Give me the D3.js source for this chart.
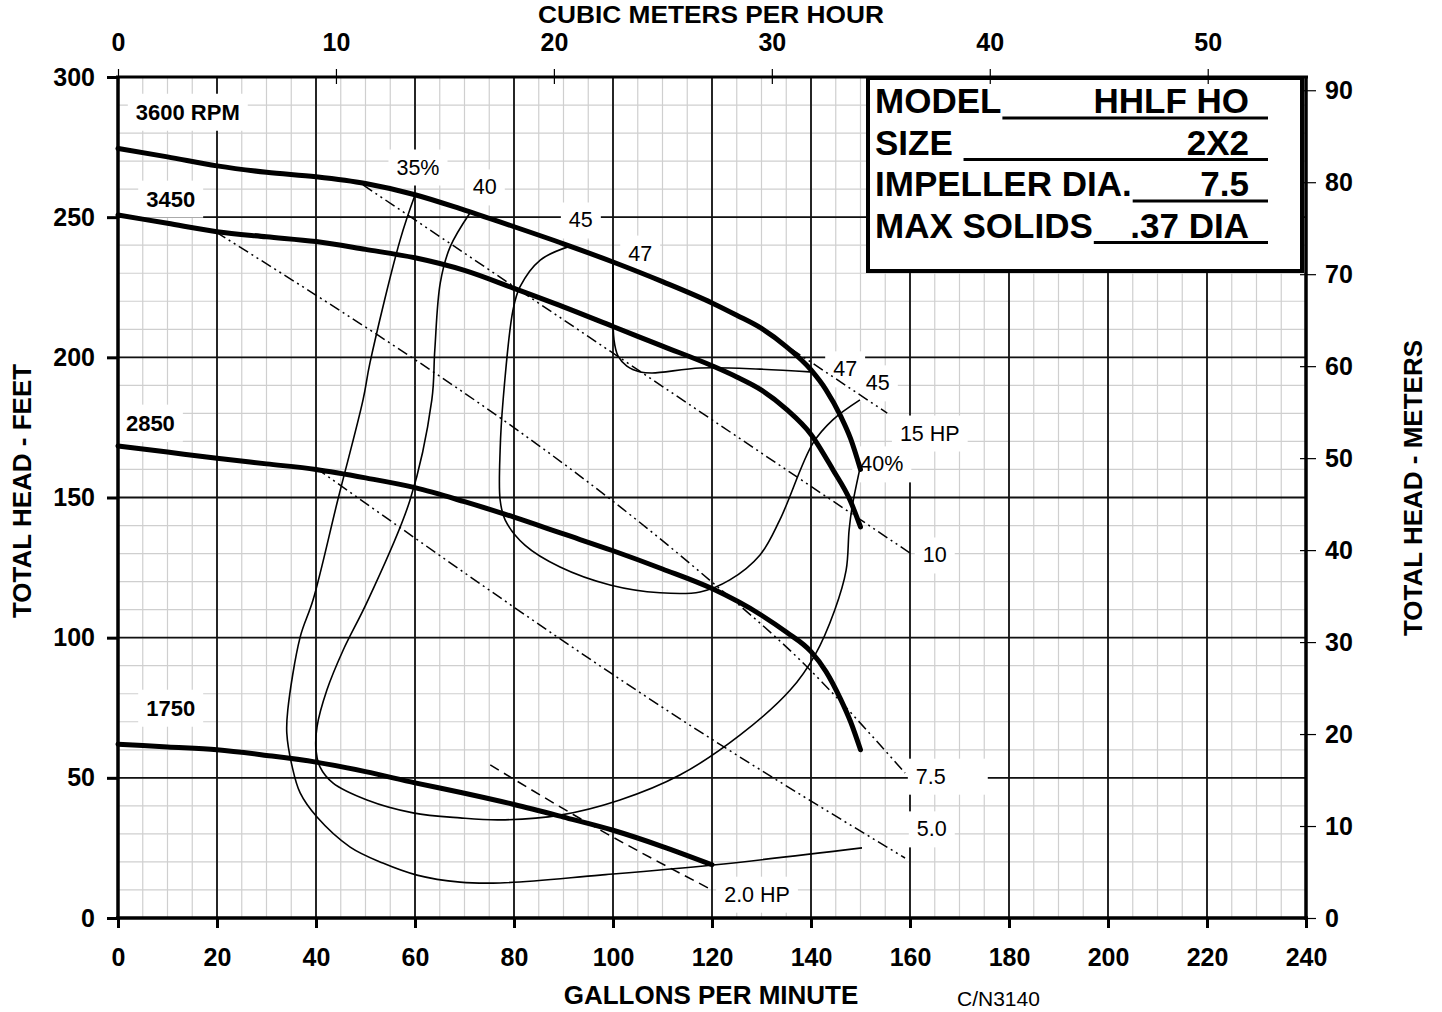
<!DOCTYPE html>
<html>
<head>
<meta charset="utf-8">
<script src="https://cdn.jsdelivr.net/npm/d3@7"></script>
<style>
body { margin: 0; background: #fff; }
svg { display: block; font-family: "Liberation Sans", Arial, sans-serif; }
</style>
</head>
<body>
<svg id="chart" width="1442" height="1012"></svg>
<script>
// axis ticks
let gpmTicks = d3.range(0, 241, 20);
let feetTicks = d3.range(0, 301, 50);
let m3hTicks = [0, 10, 20, 30, 40, 50];
let meterTicks = d3.range(0, 91, 10);

// head curves [gpm, feet]
let rpm3600 = [[0,274.5],[10,271.5],[20,268.3],[30,266],[40,264.4],[50,262],[60,258],[70,252.5],[80,246.6],[90,240.5],[100,234],[110,227],[120,219.4],[125,215],[130,210.3],[135,203.8],[140,195.5],[143,188.5],[146,179],[148,171],[150,160]];
let rpm3450 = [[0,250.8],[10,247.8],[20,244.8],[30,243],[40,241.3],[50,238.5],[60,235.5],[70,231],[80,224.6],[90,218],[100,211],[110,204],[120,197],[125,193],[130,188.3],[135,181.5],[140,172.5],[144.4,160],[147.9,149],[150,139.5]];
let rpm2850 = [[0,168.4],[10,166.2],[20,164],[30,162],[40,160],[50,157],[60,153.5],[70,148.5],[80,143],[90,137],[100,131],[110,124.5],[120,117.5],[130,108],[135,102],[140,95],[143,88],[146,78],[148,70],[150,60]];
let rpm1750 = [[0,62],[10,61],[20,60],[30,58],[40,55.6],[50,52.2],[60,48.2],[70,44.5],[80,40.5],[90,36],[100,31.3],[110,25.5],[120,19]];

// efficiency curves [gpm, feet]
let eff35 = [[60,257.9],[57,241.9],[50.9,198],[49.5,184.8],[44.4,149.1],[39.4,113.4],[36.8,100.2],[34.3,74.2],[34.1,66],[35.2,53.9],[36.8,44.6],[40.2,36],[46.9,25.3],[53.5,19.6],[60.4,15.3],[69.1,12.8],[77.2,12.5],[97.4,15.3],[120.2,18.9],[150.3,25]];
let eff40 = [[71.1,251.5],[67.1,239.4],[65.1,226.5],[64,202.6],[63.4,184.8],[59,149.1],[50.5,113.4],[45.5,95.6],[42.2,81.3],[40.2,68.1],[40,59.9],[40.8,53.9],[43.4,48.2],[50.3,42.1],[59.6,37.5],[69.1,35.7],[77.2,35],[89.3,36.7],[101.4,42.1],[113.5,51],[125.7,65.3],[135.8,81.3],[140.8,93.8],[144.8,109.9],[147.1,124.1],[147.7,138.4],[148.3,146.6],[149.9,160.5]];
let eff45 = [[90.9,239.4],[85.3,234.7],[81.2,225.1],[79.8,216.9],[77.8,184.8],[77.2,167],[77.2,149.1],[78.2,142],[82.2,133],[89.3,125.2],[99.4,118.8],[109.5,116],[117.6,116.3],[123.6,120.6],[129.7,129.5],[133.7,142],[140.4,169.4],[144.4,177.7],[149.9,184.8]];
let eff47 = [[100,234],[100,220.5],[100.2,206.2],[101,200.5],[102.8,196.9],[105.5,194.8],[107.9,194.4],[117.6,196.2],[129.7,195.8],[139.8,194.8]];

// horsepower lines [gpm, feet]
let hp15 = [[136,203],[155.4,180.1]];
let hp10 = [[49.5,261.5],[160,130.2]];
let hp75 = [[19.8,244.7],[117.6,123.4],[137.8,92],[159,51.7]];
let hp50 = [[40,160.5],[120.2,63.5],[159,21.4]];
let hp20 = [[75.2,54.6],[97.4,31.4],[120,10]];

// labels
let rpmLabels = [
  {t: "3600 RPM", q: 3.6, h: 287.5},
  {t: "3450", q: 5.7, h: 256.5},
  {t: "2850", q: 1.6, h: 176.6},
  {t: "1750", q: 5.7, h: 74.9}
];
let curveLabels = [
  {t: "35%", q: 60.6, h: 267.9},
  {t: "40", q: 74.1, h: 260.8},
  {t: "45", q: 93.5, h: 249},
  {t: "47", q: 105.5, h: 237.2},
  {t: "47", q: 146.9, h: 195.9},
  {t: "45", q: 153.5, h: 190.9},
  {t: "40%", q: 154.3, h: 162},
  {t: "15 HP", q: 164, h: 173},
  {t: "10", q: 165, h: 129.5},
  {t: "7.5", q: 164.2, h: 50.6},
  {t: "5.0", q: 164.4, h: 31.8},
  {t: "2.0 HP", q: 129.1, h: 8.5}
];
let infoRows = [["MODEL", "HHLF HO"], ["SIZE ", "2X2"], ["IMPELLER DIA.", "7.5"], ["MAX SOLIDS", ".37 DIA"]];

let svg = d3.select("#chart");

let x = d3.scaleLinear().domain([0, 240]).range([118, 1306]);
let y = d3.scaleLinear().domain([0, 300]).range([918, 77]);
let xm = d3.scaleLinear().domain([0, 240 / 4.4029]).range([118, 1306]);
let ym = d3.scaleLinear().domain([0, 300 * 0.3048]).range([918, 77]);

//grid
let grid = svg.append("g");
grid.selectAll(".vmin").data(d3.range(0, 241, 5)).enter().append("line")
  .attr("x1", d => x(d)).attr("x2", d => x(d))
  .attr("y1", y(0)).attr("y2", y(300))
  .attr("stroke", "#cfcfcf").attr("stroke-width", 1.2);
grid.selectAll(".hmin").data(d3.range(0, 301, 10)).enter().append("line")
  .attr("x1", x(0)).attr("x2", x(240))
  .attr("y1", d => y(d)).attr("y2", d => y(d))
  .attr("stroke", "#cfcfcf").attr("stroke-width", 1.2);
grid.selectAll(".vmaj").data(gpmTicks).enter().append("line")
  .attr("x1", d => x(d)).attr("x2", d => x(d))
  .attr("y1", y(0)).attr("y2", y(300))
  .attr("stroke", "#111").attr("stroke-width", 1.8);
grid.selectAll(".hmaj").data(feetTicks).enter().append("line")
  .attr("x1", x(0)).attr("x2", x(240))
  .attr("y1", d => y(d)).attr("y2", d => y(d))
  .attr("stroke", "#111").attr("stroke-width", 1.8);

let boxes = svg.append("g");
let curves = svg.append("g").attr("fill", "none").attr("stroke", "#000");

let smooth = d3.line().x(d => x(d[0])).y(d => y(d[1])).curve(d3.curveMonotoneX);
let loop = d3.line().x(d => x(d[0])).y(d => y(d[1])).curve(d3.curveCatmullRom.alpha(0.5));

// efficiency curves
[eff35, eff40, eff45, eff47].forEach(function(c) {
  curves.append("path").attr("d", loop(c)).attr("stroke-width", 1.6);
});

// hp lines
[hp15, hp10, hp75, hp50].forEach(function(c) {
  curves.append("path").attr("d", smooth(c))
    .attr("stroke-width", 1.5)
    .attr("stroke-dasharray", "11,4,2,4,2,4");
});
curves.append("path").attr("d", smooth(hp20))
  .attr("stroke-width", 1.5)
  .attr("stroke-dasharray", "10,6");

// head curves
[rpm3600, rpm3450, rpm2850, rpm1750].forEach(function(c) {
  curves.append("path").attr("d", smooth(c))
    .attr("stroke-width", 5)
    .attr("stroke-linecap", "round");
});

// labels with white backgrounds
let labels = svg.append("g");
labels.selectAll(".rpm").data(rpmLabels).enter().append("text")
  .attr("x", d => x(d.q)).attr("y", d => y(d.h))
  .attr("dy", "0.35em")
  .attr("font-size", "22px").attr("font-weight", "bold")
  .text(d => d.t);
labels.selectAll(".cl").data(curveLabels).enter().append("text")
  .attr("x", d => x(d.q)).attr("y", d => y(d.h))
  .attr("dy", "0.35em")
  .attr("text-anchor", "middle")
  .attr("font-size", "21.5px")
  .text(d => d.t);

labels.selectAll("text").each(function(d) {
  let b = this.getBBox();
  let extra = d.t === "7.5" ? 34 : 0;
  boxes.append("rect")
    .attr("x", b.x - 8).attr("y", b.y - 6)
    .attr("width", b.width + 16 + extra).attr("height", b.height + 12)
    .attr("fill", "#fff");
});

// info box
let info = svg.append("g");
info.append("rect")
  .attr("x", 868).attr("y", 78).attr("width", 434).attr("height", 193)
  .attr("fill", "#fff").attr("stroke", "#000").attr("stroke-width", 4);
infoRows.forEach(function(r, i) {
  let base = 113 + i * 41.5;
  let lbl = info.append("text")
    .attr("x", 875).attr("y", base)
    .attr("font-size", "35px").attr("font-weight", "bold")
    .style("white-space", "pre")
    .text(r[0]);
  let end = 875 + lbl.node().getComputedTextLength();
  info.append("line")
    .attr("x1", end + 1).attr("x2", 1268)
    .attr("y1", base + 5).attr("y2", base + 5)
    .attr("stroke", "#000").attr("stroke-width", 3);
  info.append("text")
    .attr("x", 1249).attr("y", base)
    .attr("text-anchor", "end")
    .attr("font-size", "35px").attr("font-weight", "bold")
    .text(r[1]);
});

// axes
function styleAxis(g, size) {
  g.select(".domain").remove();
  g.selectAll(".tick line").attr("stroke", "#000");
  g.selectAll(".tick text")
    .attr("fill", "#000")
    .attr("font-family", "\"Liberation Sans\", Arial, sans-serif")
    .attr("font-size", size).attr("font-weight", "bold");
}

let axisL = svg.append("g").attr("transform", "translate(118,0)")
  .call(d3.axisLeft(y).tickValues(feetTicks).tickSize(11).tickPadding(12));
styleAxis(axisL, "25px");
axisL.selectAll(".tick line").attr("stroke-width", 3);

let axisB = svg.append("g").attr("transform", "translate(0,918)")
  .call(d3.axisBottom(x).tickValues(gpmTicks).tickSize(10).tickPadding(20));
styleAxis(axisB, "25px");
axisB.selectAll(".tick line").attr("stroke-width", 3);

let axisT = svg.append("g").attr("transform", "translate(0,77)")
  .call(d3.axisTop(xm).tickValues(m3hTicks).tickSize(8).tickPadding(18));
styleAxis(axisT, "25px");
axisT.selectAll(".tick line").attr("y1", 7).attr("stroke-width", 1.2);

let axisR = svg.append("g").attr("transform", "translate(1306,0)")
  .call(d3.axisRight(ym).tickValues(meterTicks).tickSize(10).tickPadding(9));
styleAxis(axisR, "25px");
axisR.selectAll(".tick line").attr("x1", -6).attr("stroke-width", 1.2);

// frame
let frame = svg.append("g").attr("stroke", "#000");
frame.append("line").attr("x1", 118).attr("x2", 118).attr("y1", 76).attr("y2", 920).attr("stroke-width", 3.5);
frame.append("line").attr("x1", 116).attr("x2", 1308).attr("y1", 918).attr("y2", 918).attr("stroke-width", 3.5);
frame.append("line").attr("x1", 116).attr("x2", 1308).attr("y1", 77).attr("y2", 77).attr("stroke-width", 3);
frame.append("line").attr("x1", 1306).attr("x2", 1306).attr("y1", 76).attr("y2", 920).attr("stroke-width", 3.5);

// axis titles
svg.append("text")
  .attr("x", 711).attr("y", 23)
  .attr("text-anchor", "middle")
  .attr("font-size", "24px").attr("font-weight", "bold")
  .attr("textLength", 346).attr("lengthAdjust", "spacingAndGlyphs")
  .text("CUBIC METERS PER HOUR");

svg.append("text")
  .attr("x", 711).attr("y", 1004)
  .attr("text-anchor", "middle")
  .attr("font-size", "26px").attr("font-weight", "bold")
  .text("GALLONS PER MINUTE");

svg.append("text")
  .attr("x", 957).attr("y", 1006)
  .attr("font-size", "21px")
  .text("C/N3140");

svg.append("text")
  .attr("transform", "translate(31,491) rotate(-90)")
  .attr("text-anchor", "middle")
  .attr("font-size", "26px").attr("font-weight", "bold")
  .text("TOTAL HEAD - FEET");

svg.append("text")
  .attr("transform", "translate(1422,488) rotate(-90)")
  .attr("text-anchor", "middle")
  .attr("font-size", "26px").attr("font-weight", "bold")
  .text("TOTAL HEAD - METERS");
</script>
</body>
</html>
